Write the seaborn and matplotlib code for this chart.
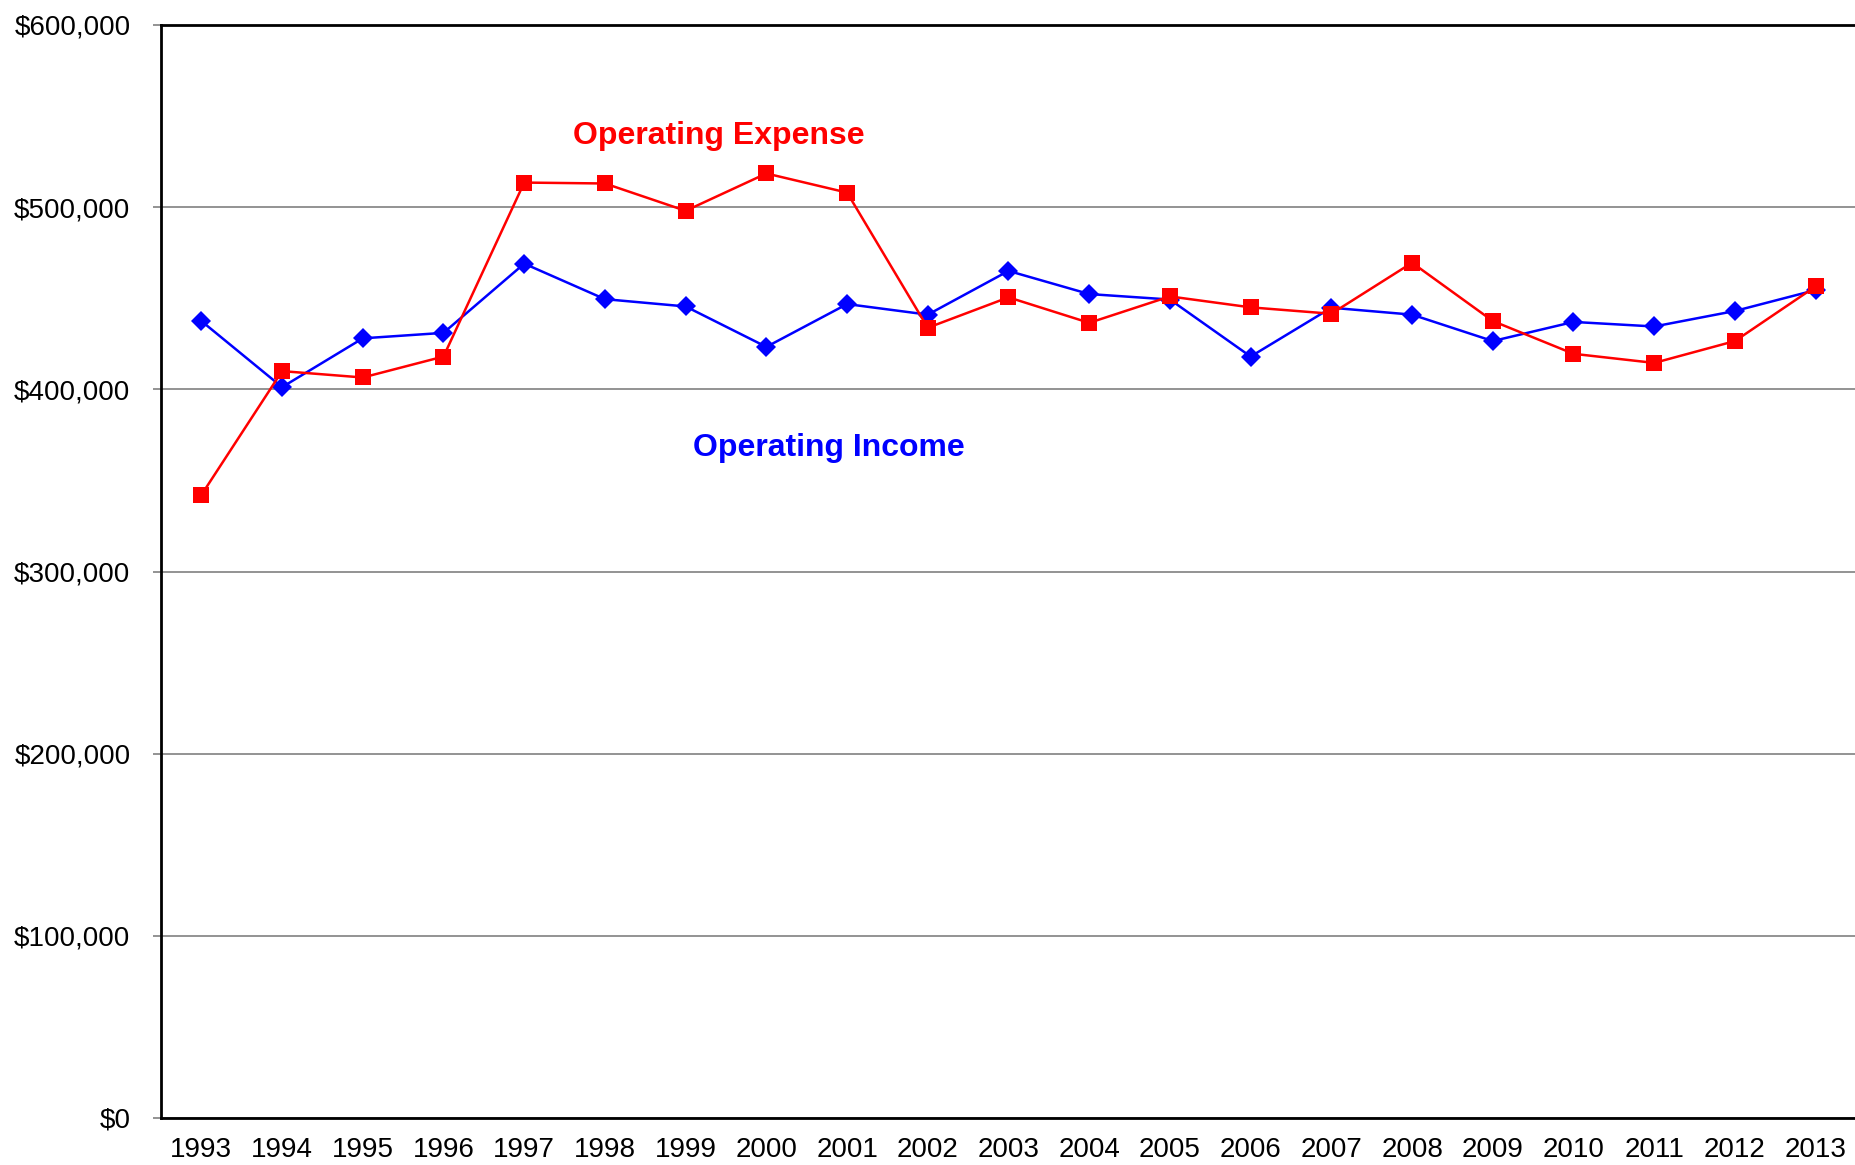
import numpy as np
import matplotlib
matplotlib.use("Agg")
import matplotlib.pyplot as plt
import seaborn as sns
import pandas as pd
from matplotlib.ticker import FuncFormatter, MultipleLocator, FixedLocator

years = [str(y) for y in range(1993, 2014)]
expense = [342000, 410000, 406500, 418000, 513500, 513000, 498000, 518500, 508000, 433800,
           450500, 436500, 451000, 445000, 441500, 469500, 437500, 419500, 414500, 426500, 456500]
income = [437500, 401200, 428000, 431000, 469000, 449500, 445500, 423300, 446800, 441000,
          465000, 452300, 449300, 418000, 444800, 441000, 426500, 437000, 434500, 443000, 454500]

df = pd.DataFrame({"pos": np.arange(len(years)), "year": years,
                   "Operating Expense": expense, "Operating Income": income})

sns.set_style("white")
plt.rcParams['font.family'] = ['Liberation Sans', 'DejaVu Sans']
plt.rcParams['text.color'] = 'black'
plt.rcParams['xtick.color'] = 'black'
plt.rcParams['ytick.color'] = 'black'

fig = plt.figure(figsize=(18.56, 11.65), dpi=100)
ax = fig.add_axes([161 / 1856, 1 - 1118 / 1165, 1 - 161 / 1856, (1118 - 25) / 1165])

sns.lineplot(data=df, x="pos", y="Operating Income", ax=ax, color="#0000ff",
             marker="D", markersize=10, markeredgewidth=0, linewidth=1.8, zorder=3)
sns.lineplot(data=df, x="pos", y="Operating Expense", ax=ax, color="#ff0000",
             marker="s", markersize=11.5, markeredgewidth=0, linewidth=1.8, zorder=4)

ax.set_xlim(-0.5, len(years) - 0.5)
ax.set_ylim(0, 600000)
ax.yaxis.set_major_locator(MultipleLocator(100000))
ax.yaxis.set_major_formatter(FuncFormatter(lambda v, p: "${:,.0f}".format(v)))
ax.grid(axis="y", color="#808080", linewidth=1.2)
ax.set_axisbelow(True)

ax.set_xticks(df["pos"])
ax.set_xticklabels(years)
ax.xaxis.set_minor_locator(FixedLocator(np.arange(-0.5, len(years), 1.0)))
ax.tick_params(axis="x", which="major", length=0, labelsize=20, pad=14, labelcolor="black")
ax.tick_params(axis="x", which="minor", length=7, width=1.2, color="#808080", direction="out")
ax.tick_params(axis="y", length=6, width=1.2, color="#808080", labelsize=20, pad=16, left=True,
               labelcolor="black")

ax.set_xlabel("")
ax.set_ylabel("")
for side in ["left", "bottom", "top"]:
    ax.spines[side].set_color("black")
    ax.spines[side].set_linewidth(2)
ax.spines["right"].set_visible(False)

ax.text(6.41, 539000, "Operating Expense", color="#ff0000", fontsize=23, fontweight="bold",
        ha="center", va="center")
ax.text(7.78, 368000, "Operating Income", color="#0000ff", fontsize=23, fontweight="bold",
        ha="center", va="center")

fig.savefig("out.png", dpi=100)
